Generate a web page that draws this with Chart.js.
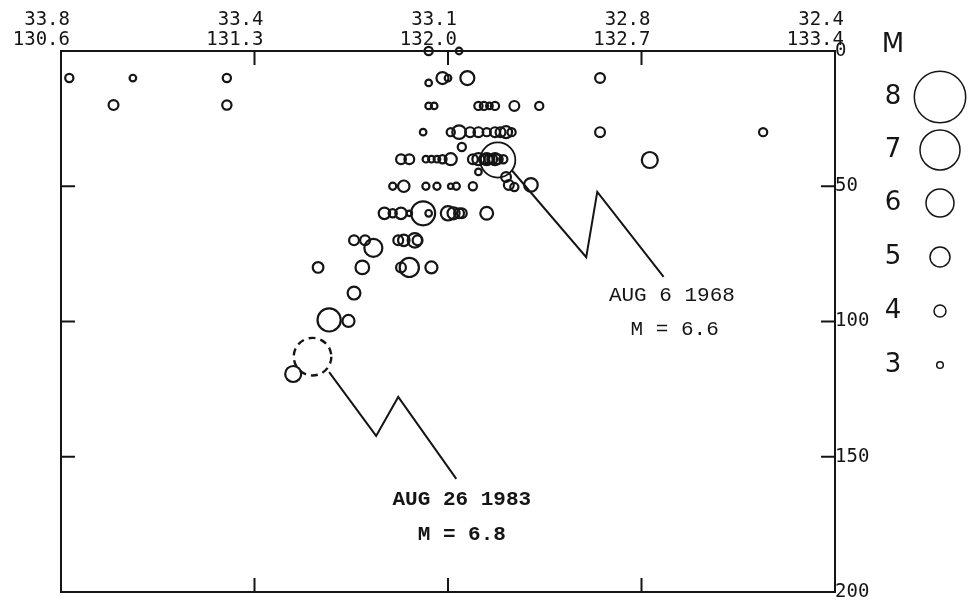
<!DOCTYPE html>
<html>
<head>
<meta charset="utf-8">
<script src="https://cdn.jsdelivr.net/npm/chart.js@4.4.1/dist/chart.umd.min.js"></script>
<style>
body { margin: 0; background: #fff; }
#wrap { width: 969px; height: 603px; }
</style>
</head>
<body>
<div id="wrap"><canvas id="chart1" width="969" height="603"></canvas></div>
<script>
// axis: longitude along profile (with matching latitude), depth in km
var lonTicks = [130.6, 131.3, 132.0, 132.7, 133.4];
var latTicks = ['33.8', '33.4', '33.1', '32.8', '32.4'];
var lonTickText = ['130.6', '131.3', '132.0', '132.7', '133.4'];
var depthTicks = [0, 50, 100, 150, 200];

// hypocenters (lon, depth km, magnitude)
var quakeLon = [
    131.93, 132.04,
    130.63, 130.86, 131.20, 131.93, 131.98, 132.00, 132.07, 132.55,
    130.79, 131.20, 131.93, 131.95, 132.11, 132.13, 132.15, 132.17, 132.24, 132.33,
    131.91, 132.01, 132.04, 132.08, 132.11, 132.14, 132.17, 132.19, 132.21, 132.23, 132.55, 133.14,
    132.05,
    131.83, 131.86, 131.92, 131.94, 131.96, 131.98, 132.01,
    132.09, 132.11, 132.13, 132.14, 132.15, 132.16, 132.17, 132.18, 132.20, 132.73,
    132.11, 132.21, 132.22, 132.24, 132.30,
    131.80, 131.84, 131.92, 131.96, 132.01, 132.03, 132.09,
    131.77, 131.80, 131.83, 131.86, 131.91, 131.93, 132.00, 132.02, 132.04, 132.05, 132.14,
    131.66, 131.70, 131.73, 131.82, 131.84, 131.88, 131.89,
    131.53, 131.69, 131.83, 131.86, 131.94,
    131.66,
    131.57, 131.64,
    131.44
];
var quakeDepth = [
    0, 0,
    10, 10, 10, 11.8, 10, 10, 10, 10,
    20, 20, 20.3, 20.3, 20.3, 20.3, 20.3, 20.3, 20.3, 20.3,
    30, 30, 30, 30, 30, 30, 30, 30, 30, 30, 30, 30,
    35.5,
    40, 40, 40, 40, 40, 40, 40,
    40, 40, 40, 40, 40, 40, 40, 40, 40, 40.3,
    44.7, 46.6, 49.5, 50.3, 49.5,
    50, 50, 50, 50, 50, 50, 50,
    60, 60, 60, 60, 60, 60, 60, 60, 60, 60, 60,
    70, 70, 72.8, 70, 70, 70, 70,
    80, 80, 80, 80, 80,
    89.5,
    99.4, 99.8,
    119.4
];
var quakeMag = [
    3.3, 3.0,
    3.3, 3.0, 3.3, 3.0, 4.0, 3.0, 4.25, 3.6,
    3.6, 3.5, 3.0, 3.0, 3.3, 3.3, 3.0, 3.3, 3.6, 3.3,
    3.0, 3.3, 4.2, 3.6, 3.6, 3.3, 3.6, 3.6, 4.0, 3.3, 3.6, 3.3,
    3.3,
    3.6, 3.6, 3.0, 3.0, 3.0, 3.3, 4.0,
    3.6, 4.0, 3.6, 4.0, 3.6, 3.6, 4.0, 3.6, 3.3, 4.5,
    3.0, 3.6, 3.6, 3.3, 4.2,
    3.1, 3.9, 3.1, 3.1, 2.8, 3.1, 3.3,
    3.9, 3.3, 3.9, 2.8, 5.5, 3.0, 4.3, 4.0, 3.6, 3.6, 4.1,
    3.6, 3.6, 4.75, 3.6, 3.9, 4.3, 3.6,
    3.75, 4.2, 3.6, 4.9, 4.0,
    4.1,
    5.4, 4.0,
    4.5
];

// the two labelled events
var eventLon = [132.18, 131.51];
var eventDepth = [40.3, 113];
var eventMag = [6.6, 6.8];
var eventDate = ['AUG 6 1968', 'AUG 26 1983'];

// magnitude scale shown at the right
var legendMags = [8, 7, 6, 5, 4, 3];

// circle size for a magnitude
var sizeMags = [3, 4, 5, 6, 7, 8];
var sizeRadius = [3.3, 6, 10, 14, 20, 25.7];
function radiusFor(m) {
    var i = 0;
    if (m <= sizeMags[0]) i = 0;
    else if (m >= sizeMags[sizeMags.length - 1]) i = sizeMags.length - 2;
    else while (m > sizeMags[i + 1]) i++;
    var t = (m - sizeMags[i]) / (sizeMags[i + 1] - sizeMags[i]);
    return sizeRadius[i] + t * (sizeRadius[i + 1] - sizeRadius[i]);
}

function pts(xs, ys) {
    return xs.map(function(x, i) { return { x: x, y: ys[i] }; });
}

// leader lines from the events to their captions
var lead1968 = pts([132.23, 132.50, 132.54, 132.78], [44.0, 76.2, 52.1, 83.5]);
var lead1983 = pts([131.57, 131.74, 131.82, 132.03], [118.7, 142.3, 127.9, 158.2]);
var captions = [
    { x: 132.81, y: 90.2, text: eventDate[0], bold: false },
    { x: 132.82, y: 102.8, text: 'M = ' + eventMag[0].toFixed(1), bold: false },
    { x: 132.05, y: 166, text: eventDate[1], bold: true },
    { x: 132.05, y: 179, text: 'M = ' + eventMag[1].toFixed(1), bold: true }
];

var ink = '#151515';

// big circles must not shrink the plot box
Chart.ScatterController.prototype.getMaxOverflow = function() { return 0; };

var framePlugin = {
    id: 'frame',
    beforeDatasetDraw: function(chart, args) {
        if (chart.data.datasets[args.index].dashed) {
            chart.ctx.save();
            chart.ctx.setLineDash([7, 5]);
        }
    },
    afterDatasetDraw: function(chart, args) {
        if (chart.data.datasets[args.index].dashed) chart.ctx.restore();
    },
    afterDraw: function(chart) {
        var ctx = chart.ctx, a = chart.chartArea;
        var xs = chart.scales.x, ys = chart.scales.y;
        ctx.save();
        ctx.strokeStyle = ink;
        ctx.lineWidth = 2;
        ctx.strokeRect(a.left, a.top, a.right - a.left, a.bottom - a.top);
        // inward tick marks
        ctx.beginPath();
        lonTicks.slice(1, -1).forEach(function(v) {
            var px = xs.getPixelForValue(v);
            ctx.moveTo(px, a.top); ctx.lineTo(px, a.top + 14);
            ctx.moveTo(px, a.bottom); ctx.lineTo(px, a.bottom - 14);
        });
        depthTicks.slice(1, -1).forEach(function(v) {
            var py = ys.getPixelForValue(v);
            ctx.moveTo(a.left, py); ctx.lineTo(a.left + 14, py);
            ctx.moveTo(a.right, py); ctx.lineTo(a.right - 14, py);
        });
        ctx.stroke();

        // captions
        ctx.fillStyle = ink;
        ctx.textAlign = 'center';
        ctx.textBaseline = 'middle';
        captions.forEach(function(c) {
            ctx.font = (c.bold ? 'bold ' : '') + '21px "Liberation Mono", monospace';
            ctx.fillText(c.text, xs.getPixelForValue(c.x), ys.getPixelForValue(c.y));
        });

        // magnitude legend
        ctx.font = '26px "DejaVu Sans", sans-serif';
        ctx.fillText('M', 893, 45);
        ctx.lineWidth = 1.5;
        var rowY = [97, 150, 203, 257, 311, 365];
        legendMags.forEach(function(m, i) {
            ctx.fillText(String(m), 893, rowY[i]);
            ctx.beginPath();
            ctx.arc(940, rowY[i], radiusFor(m), 0, Math.PI * 2);
            ctx.stroke();
        });
        ctx.restore();
    }
};

var ctx1 = document.getElementById('chart1').getContext('2d');
var chart1 = new Chart(ctx1, {
    type: 'scatter',
    data: {
        datasets: [{
            label: 'hypocenters',
            data: pts(quakeLon, quakeDepth),
            pointRadius: function(c) { return radiusFor(quakeMag[c.dataIndex]); },
            pointBorderWidth: 2.2,
            pointBorderColor: ink,
            pointBackgroundColor: 'rgba(0,0,0,0)',
            clip: false
        }, {
            label: eventDate[0],
            data: pts([eventLon[0]], [eventDepth[0]]),
            pointRadius: radiusFor(eventMag[0]),
            pointBorderWidth: 1.8,
            pointBorderColor: ink,
            pointBackgroundColor: 'rgba(0,0,0,0)',
            clip: false
        }, {
            label: eventDate[1],
            dashed: true,
            data: pts([eventLon[1]], [eventDepth[1]]),
            pointRadius: radiusFor(eventMag[1]),
            pointBorderWidth: 2.4,
            pointBorderColor: ink,
            pointBackgroundColor: 'rgba(0,0,0,0)',
            clip: false
        }, {
            type: 'line',
            data: lead1968,
            borderColor: ink,
            borderWidth: 2,
            pointRadius: 0,
            tension: 0
        }, {
            type: 'line',
            data: lead1983,
            borderColor: ink,
            borderWidth: 2,
            pointRadius: 0,
            tension: 0
        }]
    },
    options: {
        responsive: false,
        animation: false,
        events: [],
        layout: { padding: { left: 61, top: 0, right: 0, bottom: 11 } },
        plugins: { legend: { display: false }, tooltip: { enabled: false } },
        scales: {
            x: {
                type: 'linear',
                position: 'top',
                min: 130.6,
                max: 133.4,
                afterBuildTicks: function(s) {
                    s.ticks = lonTicks.map(function(v) { return { value: v }; });
                },
                afterFit: function(s) { s.height = 51; },
                grid: { display: false, drawTicks: false },
                border: { display: false },
                ticks: {
                    autoSkip: false,
                    maxRotation: 0,
                    align: 'end',
                    labelOffset: 9,
                    padding: 0,
                    color: ink,
                    font: { family: '"DejaVu Sans Mono", monospace', size: 19, lineHeight: 1.1 },
                    callback: function(v, i) { return [latTicks[i], lonTickText[i]]; }
                }
            },
            y: {
                type: 'linear',
                position: 'right',
                reverse: true,
                min: 0,
                max: 200,
                afterBuildTicks: function(s) {
                    s.ticks = depthTicks.map(function(v) { return { value: v }; });
                },
                afterFit: function(s) {
                    s.width = 134;
                    s.paddingTop = 0;
                    s.paddingBottom = 0;
                },
                grid: { display: false, drawTicks: false },
                border: { display: false },
                ticks: {
                    padding: 0,
                    color: ink,
                    font: { family: '"DejaVu Sans Mono", monospace', size: 19 }
                }
            }
        }
    },
    plugins: [framePlugin]
});
</script>
</body>
</html>
